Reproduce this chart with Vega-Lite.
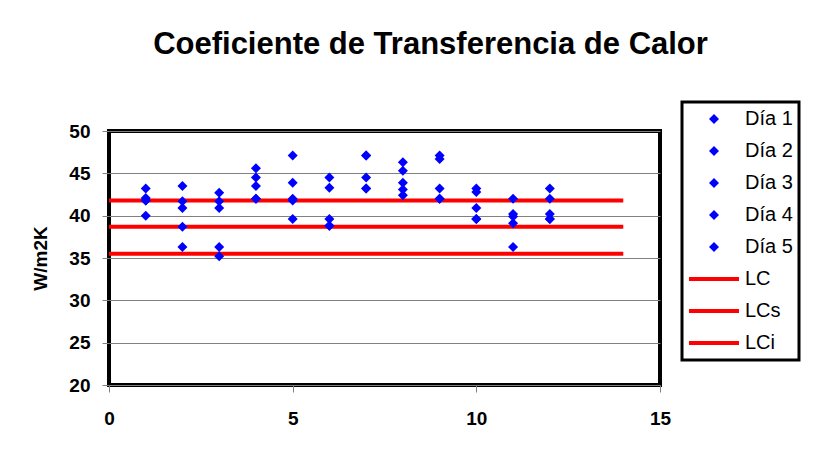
{
  "$schema": "https://vega.github.io/schema/vega-lite/v6.json",
  "width": 551,
  "height": 254,
  "autosize": {"type": "none"},
  "padding": {"left": 109, "top": 131, "right": 177, "bottom": 64},
  "title": {
    "text": "Coeficiente de Transferencia de Calor",
    "anchor": "middle",
    "frame": "group",
    "dx": 46,
    "offset": 16,
    "baseline": "alphabetic",
    "font": "Liberation Sans",
    "fontSize": 31,
    "fontWeight": "bold",
    "color": "black"
  },
  "config": {
    "font": "Liberation Sans",
    "background": "white",
    "view": {"stroke": "black", "strokeWidth": 4},
    "legend": {"strokeWidth": 3},
    "axis": {
      "labelFont": "Liberation Sans",
      "labelFontSize": 19,
      "labelFontWeight": "bold",
      "labelColor": "black",
      "tickColor": "#808080",
      "tickSize": 7,
      "domain": false,
      "labelOverlap": false,
      "titleFont": "Liberation Sans",
      "titleFontSize": 19,
      "titleFontWeight": "bold",
      "titleColor": "black"
    }
  },
  "datasets": {
    "dias": [
      {"x": 1, "valor": 43.2, "serie": "Día 1"},
      {"x": 1, "valor": 42.1, "serie": "Día 2"},
      {"x": 1, "valor": 41.8, "serie": "Día 3"},
      {"x": 1, "valor": 41.8, "serie": "Día 4"},
      {"x": 1, "valor": 40.0, "serie": "Día 5"},
      {"x": 2, "valor": 43.5, "serie": "Día 1"},
      {"x": 2, "valor": 41.7, "serie": "Día 2"},
      {"x": 2, "valor": 40.9, "serie": "Día 3"},
      {"x": 2, "valor": 38.7, "serie": "Día 4"},
      {"x": 2, "valor": 36.3, "serie": "Día 5"},
      {"x": 3, "valor": 42.7, "serie": "Día 1"},
      {"x": 3, "valor": 41.7, "serie": "Día 2"},
      {"x": 3, "valor": 40.9, "serie": "Día 3"},
      {"x": 3, "valor": 36.3, "serie": "Día 4"},
      {"x": 3, "valor": 35.2, "serie": "Día 5"},
      {"x": 4, "valor": 45.6, "serie": "Día 1"},
      {"x": 4, "valor": 44.5, "serie": "Día 2"},
      {"x": 4, "valor": 43.5, "serie": "Día 3"},
      {"x": 4, "valor": 42.0, "serie": "Día 4"},
      {"x": 4, "valor": 42.0, "serie": "Día 5"},
      {"x": 5, "valor": 47.1, "serie": "Día 1"},
      {"x": 5, "valor": 43.9, "serie": "Día 2"},
      {"x": 5, "valor": 42.0, "serie": "Día 3"},
      {"x": 5, "valor": 41.8, "serie": "Día 4"},
      {"x": 5, "valor": 39.6, "serie": "Día 5"},
      {"x": 6, "valor": 44.5, "serie": "Día 1"},
      {"x": 6, "valor": 43.3, "serie": "Día 2"},
      {"x": 6, "valor": 39.6, "serie": "Día 3"},
      {"x": 6, "valor": 38.8, "serie": "Día 4"},
      {"x": 6, "valor": 38.8, "serie": "Día 5"},
      {"x": 7, "valor": 47.1, "serie": "Día 1"},
      {"x": 7, "valor": 47.1, "serie": "Día 2"},
      {"x": 7, "valor": 44.5, "serie": "Día 3"},
      {"x": 7, "valor": 43.2, "serie": "Día 4"},
      {"x": 7, "valor": 43.2, "serie": "Día 5"},
      {"x": 8, "valor": 46.3, "serie": "Día 1"},
      {"x": 8, "valor": 45.3, "serie": "Día 2"},
      {"x": 8, "valor": 43.9, "serie": "Día 3"},
      {"x": 8, "valor": 43.1, "serie": "Día 4"},
      {"x": 8, "valor": 42.4, "serie": "Día 5"},
      {"x": 9, "valor": 47.1, "serie": "Día 1"},
      {"x": 9, "valor": 46.7, "serie": "Día 2"},
      {"x": 9, "valor": 43.2, "serie": "Día 3"},
      {"x": 9, "valor": 42.0, "serie": "Día 4"},
      {"x": 9, "valor": 42.0, "serie": "Día 5"},
      {"x": 10, "valor": 43.2, "serie": "Día 1"},
      {"x": 10, "valor": 42.8, "serie": "Día 2"},
      {"x": 10, "valor": 40.9, "serie": "Día 3"},
      {"x": 10, "valor": 39.6, "serie": "Día 4"},
      {"x": 10, "valor": 39.6, "serie": "Día 5"},
      {"x": 11, "valor": 42.0, "serie": "Día 1"},
      {"x": 11, "valor": 40.2, "serie": "Día 2"},
      {"x": 11, "valor": 39.9, "serie": "Día 3"},
      {"x": 11, "valor": 39.1, "serie": "Día 4"},
      {"x": 11, "valor": 36.3, "serie": "Día 5"},
      {"x": 12, "valor": 43.2, "serie": "Día 1"},
      {"x": 12, "valor": 42.0, "serie": "Día 2"},
      {"x": 12, "valor": 40.2, "serie": "Día 3"},
      {"x": 12, "valor": 39.6, "serie": "Día 4"},
      {"x": 12, "valor": 39.6, "serie": "Día 5"}
    ],
    "limites": [
      {"serie": "LC", "x_ini": 0, "x_fin": 14, "valor": 38.7},
      {"serie": "LCs", "x_ini": 0, "x_fin": 14, "valor": 41.8},
      {"serie": "LCi", "x_ini": 0, "x_fin": 14, "valor": 35.5}
    ]
  },
  "layer": [
    {
      "data": {"name": "limites"},
      "mark": {"type": "rule", "strokeWidth": 4, "color": "#FF0000"},
      "encoding": {
        "x": {"field": "x_ini", "type": "quantitative", "scale": {"domain": [0, 15], "nice": false},
              "axis": {"values": [0, 5, 10, 15], "title": null, "grid": false, "labelPadding": 17, "labelFlush": false}},
        "x2": {"field": "x_fin"},
        "y": {"field": "valor", "type": "quantitative", "scale": {"domain": [20, 50], "nice": false},
              "axis": {"values": [20, 25, 30, 35, 40, 45, 50], "title": "W/m2K", "grid": true, "gridColor": "#808080", "gridWidth": 1, "labelPadding": 12, "titlePadding": 18}},
        "detail": {"field": "serie", "type": "nominal"}
      }
    },
    {
      "data": {"name": "dias"},
      "mark": {"type": "point", "filled": true, "opacity": 1, "size": 2500},
      "encoding": {
        "x": {"field": "x", "type": "quantitative"},
        "y": {"field": "valor", "type": "quantitative"},
        "color": {"field": "serie", "type": "nominal",
                  "scale": {"domain": ["Día 1", "Día 2", "Día 3", "Día 4", "Día 5", "LC", "LCs", "LCi"],
                            "range": ["#0000FF", "#0000FF", "#0000FF", "#0000FF", "#0000FF", "#FF0000", "#FF0000", "#FF0000"]},
                  "legend": {
                    "title": null,
                    "orient": "none",
                    "legendX": 573,
                    "legendY": -29,
                    "padding": 6,
                    "symbolSize": 2500,
                    "clipHeight": 22,
                    "rowPadding": 10,
                    "labelOffset": 5,
                    "labelFont": "Liberation Sans",
                    "labelFontSize": 20,
                    "labelColor": "black",
                    "labelLimit": 200,
                    "strokeColor": "black",
                    "fillColor": "white",
                    "encode": {"legend": {"enter": {"strokeWidth": {"value": 3}}, "update": {"strokeWidth": {"value": 3}}}}
                  }},
        "shape": {"field": "serie", "type": "nominal",
                  "scale": {"domain": ["Día 1", "Día 2", "Día 3", "Día 4", "Día 5", "LC", "LCs", "LCi"],
                            "range": ["M-0.2,0L0,-0.2L0.2,0L0,0.2Z", "M-0.2,0L0,-0.2L0.2,0L0,0.2Z", "M-0.2,0L0,-0.2L0.2,0L0,0.2Z", "M-0.2,0L0,-0.2L0.2,0L0,0.2Z", "M-0.2,0L0,-0.2L0.2,0L0,0.2Z", "M-1,-0.08H1V0.08H-1Z", "M-1,-0.08H1V0.08H-1Z", "M-1,-0.08H1V0.08H-1Z"]}}
      }
    }
  ]
}
